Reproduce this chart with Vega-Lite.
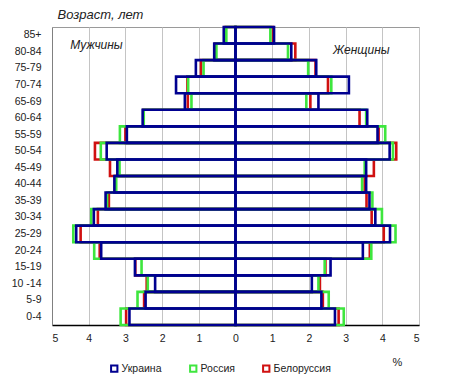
{
  "$schema": "https://vega.github.io/schema/vega-lite/v6.json",
  "width": 367,
  "height": 298,
  "autosize": {"type": "none"},
  "padding": {"left": 52, "top": 27, "right": 31, "bottom": 64},
  "background": "white",
  "config": {
    "font": "Liberation Sans",
    "view": {"stroke": "#9a9a9a", "strokeWidth": 1},
    "axis": {"labelColor": "#222", "titleColor": "#222"}
  },
  "data": {"values": [
    {"age":"85+","country":"Белоруссия","v":-0.29},{"age":"85+","country":"Белоруссия","v":1.02},
    {"age":"80-84","country":"Белоруссия","v":-0.55},{"age":"80-84","country":"Белоруссия","v":1.63},
    {"age":"75-79","country":"Белоруссия","v":-0.94},{"age":"75-79","country":"Белоруссия","v":2.18},
    {"age":"70-74","country":"Белоруссия","v":-1.31},{"age":"70-74","country":"Белоруссия","v":2.52},
    {"age":"65-69","country":"Белоруссия","v":-1.30},{"age":"65-69","country":"Белоруссия","v":2.04},
    {"age":"60-64","country":"Белоруссия","v":-2.51},{"age":"60-64","country":"Белоруссия","v":3.38},
    {"age":"55-59","country":"Белоруссия","v":-3.0},{"age":"55-59","country":"Белоруссия","v":3.9},
    {"age":"50-54","country":"Белоруссия","v":-3.83},{"age":"50-54","country":"Белоруссия","v":4.38},
    {"age":"45-49","country":"Белоруссия","v":-3.42},{"age":"45-49","country":"Белоруссия","v":3.77},
    {"age":"40-44","country":"Белоруссия","v":-3.28},{"age":"40-44","country":"Белоруссия","v":3.52},
    {"age":"35-39","country":"Белоруссия","v":-3.45},{"age":"35-39","country":"Белоруссия","v":3.57},
    {"age":"30-34","country":"Белоруссия","v":-3.75},{"age":"30-34","country":"Белоруссия","v":3.71},
    {"age":"25-29","country":"Белоруссия","v":-4.22},{"age":"25-29","country":"Белоруссия","v":4.04},
    {"age":"20-24","country":"Белоруссия","v":-3.7},{"age":"20-24","country":"Белоруссия","v":3.66},
    {"age":"15-19","country":"Белоруссия","v":-2.73},{"age":"15-19","country":"Белоруссия","v":2.45},
    {"age":"10 -14","country":"Белоруссия","v":-2.42},{"age":"10 -14","country":"Белоруссия","v":2.30},
    {"age":"5-9","country":"Белоруссия","v":-2.49},{"age":"5-9","country":"Белоруссия","v":2.38},
    {"age":"0-4","country":"Белоруссия","v":-2.98},{"age":"0-4","country":"Белоруссия","v":2.81},

    {"age":"85+","country":"Россия","v":-0.25},{"age":"85+","country":"Россия","v":0.95},
    {"age":"80-84","country":"Россия","v":-0.52},{"age":"80-84","country":"Россия","v":1.43},
    {"age":"75-79","country":"Россия","v":-0.87},{"age":"75-79","country":"Россия","v":1.98},
    {"age":"70-74","country":"Россия","v":-1.29},{"age":"70-74","country":"Россия","v":2.61},
    {"age":"65-69","country":"Россия","v":-1.20},{"age":"65-69","country":"Россия","v":1.93},
    {"age":"60-64","country":"Россия","v":-2.50},{"age":"60-64","country":"Россия","v":3.56},
    {"age":"55-59","country":"Россия","v":-3.15},{"age":"55-59","country":"Россия","v":4.08},
    {"age":"50-54","country":"Россия","v":-3.67},{"age":"50-54","country":"Россия","v":4.29},
    {"age":"45-49","country":"Россия","v":-3.16},{"age":"45-49","country":"Россия","v":3.52},
    {"age":"40-44","country":"Россия","v":-3.25},{"age":"40-44","country":"Россия","v":3.45},
    {"age":"35-39","country":"Россия","v":-3.50},{"age":"35-39","country":"Россия","v":3.73},
    {"age":"30-34","country":"Россия","v":-3.93},{"age":"30-34","country":"Россия","v":3.99},
    {"age":"25-29","country":"Россия","v":-4.42},{"age":"25-29","country":"Россия","v":4.36},
    {"age":"20-24","country":"Россия","v":-3.85},{"age":"20-24","country":"Россия","v":3.70},
    {"age":"15-19","country":"Россия","v":-2.56},{"age":"15-19","country":"Россия","v":2.43},
    {"age":"10 -14","country":"Россия","v":-2.39},{"age":"10 -14","country":"Россия","v":2.26},
    {"age":"5-9","country":"Россия","v":-2.67},{"age":"5-9","country":"Россия","v":2.54},
    {"age":"0-4","country":"Россия","v":-3.13},{"age":"0-4","country":"Россия","v":2.95},

    {"age":"85+","country":"Украина","v":-0.32},{"age":"85+","country":"Украина","v":1.05},
    {"age":"80-84","country":"Украина","v":-0.58},{"age":"80-84","country":"Украина","v":1.52},
    {"age":"75-79","country":"Украина","v":-1.08},{"age":"75-79","country":"Украина","v":2.2},
    {"age":"70-74","country":"Украина","v":-1.62},{"age":"70-74","country":"Украина","v":3.09},
    {"age":"65-69","country":"Украина","v":-1.38},{"age":"65-69","country":"Украина","v":2.26},
    {"age":"60-64","country":"Украина","v":-2.53},{"age":"60-64","country":"Украина","v":3.59},
    {"age":"55-59","country":"Украина","v":-2.96},{"age":"55-59","country":"Украина","v":3.87},
    {"age":"50-54","country":"Украина","v":-3.51},{"age":"50-54","country":"Украина","v":4.20},
    {"age":"45-49","country":"Украина","v":-3.22},{"age":"45-49","country":"Украина","v":3.56},
    {"age":"40-44","country":"Украина","v":-3.30},{"age":"40-44","country":"Украина","v":3.56},
    {"age":"35-39","country":"Украина","v":-3.54},{"age":"35-39","country":"Украина","v":3.65},
    {"age":"30-34","country":"Украина","v":-3.86},{"age":"30-34","country":"Украина","v":3.81},
    {"age":"25-29","country":"Украина","v":-4.34},{"age":"25-29","country":"Украина","v":4.21},
    {"age":"20-24","country":"Украина","v":-3.66},{"age":"20-24","country":"Украина","v":3.47},
    {"age":"15-19","country":"Украина","v":-2.74},{"age":"15-19","country":"Украина","v":2.59},
    {"age":"10 -14","country":"Украина","v":-2.19},{"age":"10 -14","country":"Украина","v":2.08},
    {"age":"5-9","country":"Украина","v":-2.45},{"age":"5-9","country":"Украина","v":2.34},
    {"age":"0-4","country":"Украина","v":-2.89},{"age":"0-4","country":"Украина","v":2.71},

    {"age":"80-84","t":"Мужчины","v":-3.79},
    {"age":"80-84","t":"Женщины","v":3.43}
  ]},
  "encoding": {
    "y": {
      "field": "age", "type": "nominal",
      "scale": {"domain": ["85+","80-84","75-79","70-74","65-69","60-64","55-59","50-54","45-49","40-44","35-39","30-34","25-29","20-24","15-19","10 -14","5-9","0-4"], "paddingInner": 0, "paddingOuter": 0},
      "axis": {
        "title": "Возраст, лет", "titleAngle": 0, "titleAlign": "left", "titleBaseline": "alphabetic",
        "titleX": 5, "titleY": -9, "titleFontStyle": "italic", "titleFontWeight": "normal", "titleFontSize": 13,
        "ticks": false, "labelFontSize": 10.5, "labelPadding": 11, "domainColor": "#808080", "grid": false,
        "labelOverlap": false
      }
    },
    "x": {
      "field": "v", "type": "quantitative", "stack": null,
      "scale": {"domain": [-5, 5], "nice": false},
      "axis": {
        "values": [-5,-4,-3,-2,-1,0,1,2,3,4,5], "labelExpr": "abs(datum.value)", "labelOverlap": false,
        "title": "%", "titleX": 345, "titleY": 37, "titleBaseline": "middle", "titleAlign": "center",
        "titleFontWeight": "normal", "titleFontSize": 11,
        "ticks": false, "labelFontSize": 10.5, "labelPadding": 8, "domainColor": "#000", "domainWidth": 1.5,
        "grid": true, "gridColor": "#c4c4c4", "gridWidth": 1
      }
    }
  },
  "layer": [
    {
      "transform": [{"filter": "isValid(datum.country)"}],
      "mark": {"type": "bar", "filled": false, "strokeWidth": 2.6, "opacity": 1},
      "encoding": {
        "color": {
          "field": "country", "type": "nominal",
          "scale": {"domain": ["Украина","Россия","Белоруссия"], "range": ["#000090","#3ee63e","#d01010"]},
          "legend": {
            "title": null, "orient": "none", "direction": "horizontal", "legendX": 57, "legendY": 336,
            "symbolType": "square", "symbolSize": 40, "symbolStrokeWidth": 2, "symbolFillColor": "white",
            "labelFontSize": 10.5, "labelOffset": 2, "columnPadding": 24, "labelColor": "#222"
          }
        }
      }
    },
    {
      "transform": [{"filter": "datum.t === 'Мужчины'"}],
      "mark": {"type": "text", "fontStyle": "italic", "fontSize": 12, "dy": -7, "color": "#222"},
      "encoding": {"text": {"field": "t"}}
    },
    {
      "transform": [{"filter": "datum.t === 'Женщины'"}],
      "mark": {"type": "text", "fontStyle": "italic", "fontSize": 12, "dy": -2, "color": "#222"},
      "encoding": {"text": {"field": "t"}}
    }
  ]
}
